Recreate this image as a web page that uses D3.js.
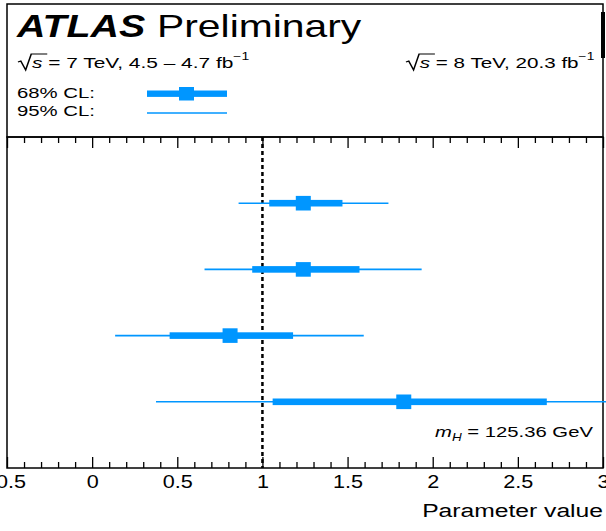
<!DOCTYPE html>
<html>
<head>
<meta charset="utf-8">
<script src="https://cdn.jsdelivr.net/npm/d3@7"></script>
<style>
  html, body { margin: 0; padding: 0; background: #fff; }
  svg { display: block; font-family: "Liberation Sans", Arial, sans-serif; }
</style>
</head>
<body>
<div id="chart"></div>
<script>
// measurements, one entry per row (top to bottom)
const rows = ["row1", "row2", "row3", "row4"];
const central = [1.24, 1.24, 0.81, 1.83];
const lo68 = [1.04, 0.94, 0.455, 1.06];
const hi68 = [1.47, 1.57, 1.18, 2.67];
const lo95 = [0.86, 0.66, 0.135, 0.375];
const hi95 = [1.74, 1.935, 1.595, 3.05];

const majorTicks = [-0.5, 0, 0.5, 1, 1.5, 2, 2.5, 3];
const smRef = 1; // SM expectation, dashed line

const width = 606, height = 531;
const left = 7, right = 603;
const boxTop = 4, plotTop = 137, plotBottom = 468;
const blue = "#0096ff";

const svg = d3.select("#chart").append("svg")
  .attr("width", width)
  .attr("height", height);

svg.append("rect").attr("width", width).attr("height", height).attr("fill", "#fff");

const x = d3.scaleLinear().domain([-0.5, 3]).range([left, right]);
// rows sit at 1..4 of 5 equal steps down the plot
const y = d3.scaleLinear().domain([0, rows.length + 1]).range([plotTop, plotBottom]);

// stretch a group horizontally so its content fits a given width
function fit(g, tx, ty, w) {
  const bb = g.node().getBBox();
  const s = w / bb.width;
  g.attr("transform", `translate(${tx},${ty}) scale(${s},1)`);
  return g;
}

//// frames ////
svg.append("rect")
  .attr("x", left).attr("y", boxTop)
  .attr("width", right - left).attr("height", plotTop - boxTop)
  .attr("fill", "none").attr("stroke", "#000").attr("stroke-width", 1.5);

svg.append("rect")
  .attr("x", left).attr("y", plotTop)
  .attr("width", right - left).attr("height", plotBottom - plotTop)
  .attr("fill", "none").attr("stroke", "#000").attr("stroke-width", 1.5);

svg.append("line")
  .attr("x1", right).attr("x2", right).attr("y1", 12).attr("y2", 58)
  .attr("stroke", "#000").attr("stroke-width", 4);

//// axes ////
const minorTicks = d3.range(-5, 31).map(d => d / 10).filter(d => Math.abs(d * 2 - Math.round(d * 2)) > 1e-6);

function drawAxis(axis, ty) {
  const g = svg.append("g").attr("transform", `translate(0,${ty})`).call(axis);
  g.select(".domain").remove();
  g.selectAll("line").attr("stroke", "#000").attr("stroke-width", 1.3);
  return g;
}

drawAxis(d3.axisTop(x).tickValues(majorTicks).tickSize(-11).tickFormat(""), plotTop);
drawAxis(d3.axisTop(x).tickValues(minorTicks).tickSize(-6).tickFormat(""), plotTop);
drawAxis(d3.axisBottom(x).tickValues(minorTicks).tickSize(-6).tickFormat(""), plotBottom);

const bottomAxis = drawAxis(
  d3.axisBottom(x).tickValues(majorTicks).tickSize(-11).tickPadding(4)
    .tickFormat(d => String(d)),
  plotBottom);
bottomAxis.selectAll("text")
  .attr("fill", "#000")
  .attr("font-size", 18)
  .attr("y", 20)
  .attr("dy", 0)
  .attr("transform", "scale(1.2,1)");

//// dashed reference line ////
svg.append("line")
  .attr("x1", x(smRef)).attr("x2", x(smRef))
  .attr("y1", plotTop).attr("y2", plotBottom)
  .attr("stroke", "#000").attr("stroke-width", 2.5)
  .attr("stroke-dasharray", "4,3");

//// measurements ////
const marks = svg.append("g");
rows.forEach((r, i) => {
  const cy = y(i + 1);
  marks.append("line")
    .attr("x1", x(lo95[i])).attr("x2", x(hi95[i]))
    .attr("y1", cy).attr("y2", cy)
    .attr("stroke", blue).attr("stroke-width", 1.6);
  marks.append("rect")
    .attr("x", x(lo68[i])).attr("width", x(hi68[i]) - x(lo68[i]))
    .attr("y", cy - 3.3).attr("height", 6.6)
    .attr("fill", blue);
  marks.append("rect")
    .attr("x", x(central[i]) - 7.5).attr("width", 15)
    .attr("y", cy - 7.3).attr("height", 14.6)
    .attr("fill", blue);
});

//// legend ////
svg.append("line").attr("x1", 147).attr("x2", 227).attr("y1", 113).attr("y2", 113)
  .attr("stroke", blue).attr("stroke-width", 1.6);
svg.append("rect").attr("x", 147).attr("width", 80).attr("y", 90.5).attr("height", 6.4).attr("fill", blue);
svg.append("rect").attr("x", 179).attr("width", 15).attr("y", 87).attr("height", 13.5).attr("fill", blue);

const l68 = svg.append("g");
l68.append("text").attr("font-size", 15).attr("fill", "#000").text("68% CL:");
fit(l68, 17, 97.5, 78);
const l95 = svg.append("g");
l95.append("text").attr("font-size", 15).attr("fill", "#000").text("95% CL:");
fit(l95, 17, 115.5, 78);

//// titles ////
const atlas = svg.append("g");
atlas.append("text").attr("font-size", 31).attr("font-weight", "bold").attr("font-style", "italic")
  .attr("fill", "#000").text("ATLAS");
fit(atlas, 17, 37, 130);

const prelim = svg.append("g");
prelim.append("text").attr("font-size", 31).attr("fill", "#000").text("Preliminary");
fit(prelim, 157, 37, 205);

function sqrtLabel(tx, ty, w, rest) {
  const g = svg.append("g");
  g.append("path")
    .attr("d", "M0,-6 L2,-7 L5.5,2 L9.5,-14 L21,-14")
    .attr("fill", "none").attr("stroke", "#000").attr("stroke-width", 1.1);
  const t = g.append("text").attr("font-size", 15).attr("fill", "#000");
  t.append("tspan").attr("x", 10).attr("font-style", "italic").text("s");
  t.append("tspan").text(" = " + rest);
  t.append("tspan").attr("font-size", 10).attr("dy", -8).text("\u22121");
  fit(g, tx, ty, w);
}
sqrtLabel(18, 68, 232, "7 TeV, 4.5 \u2013 4.7 fb");
sqrtLabel(406, 68, 189, "8 TeV, 20.3 fb");

const mh = svg.append("g");
const mht = mh.append("text").attr("font-size", 15).attr("fill", "#000");
mht.append("tspan").attr("font-style", "italic").text("m");
mht.append("tspan").attr("font-style", "italic").attr("font-size", 10).attr("dy", 4).text("H");
mht.append("tspan").attr("dy", -4).text(" = 125.36 GeV");
fit(mh, 435, 437, 158);

const xt = svg.append("g");
xt.append("text").attr("font-size", 18).attr("fill", "#000").attr("text-anchor", "end").text("Parameter value");
fit(xt, 603, 517, 181);
</script>
</body>
</html>
